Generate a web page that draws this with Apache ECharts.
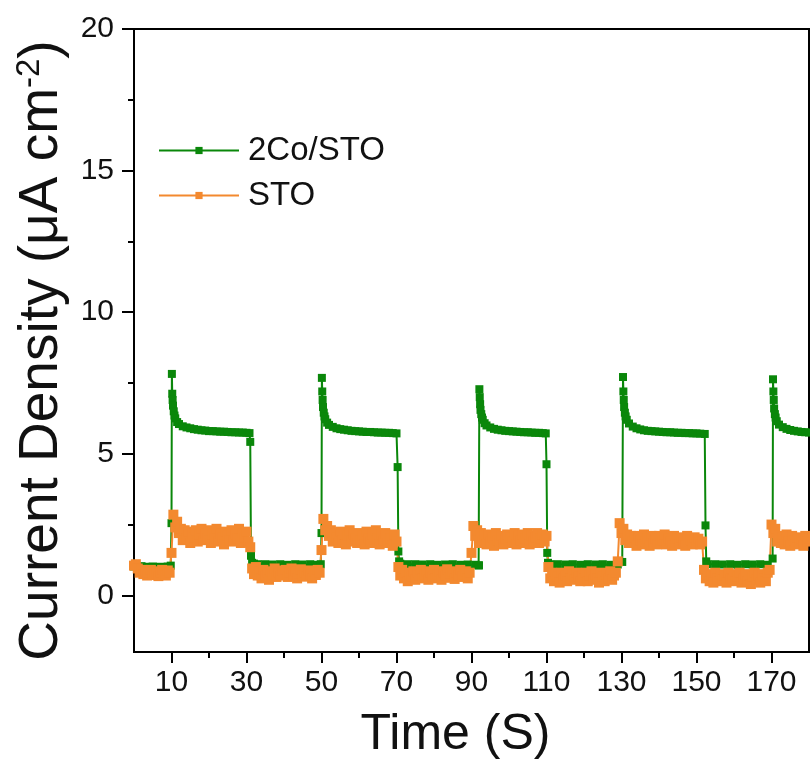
<!DOCTYPE html>
<html>
<head>
<meta charset="utf-8">
<script src="https://cdn.jsdelivr.net/npm/echarts@6/dist/echarts.min.js"></script>
<style>
html,body{margin:0;padding:0;background:#fff;}
#chart{width:810px;height:765px;}
</style>
</head>
<body>
<div id="chart"></div>
<script>
// ---- axis ticks / labels ----
const xMajorTicks = [10, 30, 50, 70, 90, 110, 130, 150, 170];
const xMinorTicks = [20, 40, 60, 80, 100, 120, 140, 160];
const yMajorTicks = [0, 5, 10, 15, 20];
const yMinorTicks = [2.5, 7.5, 12.5, 17.5];
const seriesNames = ['2Co/STO', 'STO'];

// ---- 2Co/STO (green) : time (s) and current density ----
const greenTime = [
  0,1,2,3,4,5,6,7,8,9,9.8,
  10.0,10.1,10.2,10.3,10.4,10.6,10.8,11.0,11.5,12,13,14,15,16,17,18,19,20,21,22,23,24,25,26,27,28,29,30,30.8,
  31.0,31.2,31.5,32,33,35,37,39,41,43,45,47,49,49.8,
  50.0,50.1,50.2,50.3,50.4,50.6,50.8,51,51.5,52,53,54,55,56,57,58,59,60,61,62,63,64,65,66,67,68,69,70.0,
  70.3,70.5,70.7,71,73,75,77,79,81,83,85,87,89,91,91.9,
  92.0,92.1,92.2,92.3,92.4,92.6,92.8,93,93.5,94,95,96,97,98,99,100,101,102,103,104,105,106,107,108,109,109.8,
  110.0,110.2,110.4,111,113,115,117,119,121,123,125,127,129,130.2,
  130.4,130.5,130.6,130.7,130.9,131.1,131.4,132,133,134,135,136,137,138,139,140,141,142,143,144,145,146,147,148,149,150,151,152.2,
  152.4,152.6,153,155,157,159,161,163,165,167,169,170.3,
  170.4,170.5,170.6,170.7,170.9,171.1,171.4,172,173,174,175,176,177,178,179,180
];
const greenValue = [
  1.02,1.0,1.03,1.01,1.0,1.02,1.0,1.01,1.0,1.02,1.05,
  2.55,7.82,7.12,6.9,6.7,6.5,6.35,6.25,6.12,6.05,5.97,5.93,5.9,5.87,5.85,5.83,5.82,5.8,5.8,5.79,5.78,5.78,5.77,5.76,5.76,5.75,5.75,5.74,5.73,
  5.42,1.4,1.15,1.12,1.1,1.1,1.09,1.1,1.08,1.1,1.09,1.1,1.08,1.1,
  2.2,7.68,7.2,6.9,6.65,6.45,6.32,6.22,6.1,6.02,5.95,5.9,5.87,5.85,5.83,5.81,5.8,5.79,5.78,5.77,5.77,5.76,5.75,5.75,5.74,5.74,5.73,5.72,
  4.53,1.55,1.2,1.12,1.1,1.1,1.09,1.1,1.08,1.09,1.1,1.08,1.09,1.08,1.06,
  1.06,7.28,7.0,6.75,6.55,6.4,6.28,6.2,6.08,6.0,5.93,5.88,5.85,5.83,5.81,5.8,5.79,5.78,5.77,5.76,5.76,5.75,5.74,5.74,5.73,5.72,
  4.63,1.5,1.15,1.1,1.1,1.09,1.1,1.08,1.1,1.09,1.1,1.08,1.09,1.18,
  7.71,7.2,6.9,6.65,6.45,6.32,6.2,6.07,5.96,5.9,5.86,5.83,5.81,5.8,5.79,5.78,5.77,5.76,5.76,5.75,5.74,5.74,5.73,5.73,5.72,5.72,5.71,5.7,
  2.47,1.2,1.1,1.1,1.09,1.1,1.08,1.1,1.09,1.1,1.08,1.3,
  7.63,7.2,6.9,6.6,6.4,6.28,6.15,6.03,5.94,5.88,5.84,5.81,5.79,5.77,5.76,5.75
];

// ---- STO (orange) : sampled every 0.5 s from 0 s ----
const orangeStep = 0.5;
const orangeValue = [
  1.05,1.1,0.95,0.8,0.9,0.75,0.85,0.7,0.8,0.9,0.72,0.85,0.78,0.68,0.82,0.9,0.75,0.7,0.88,0.8,
  1.5,2.85,2.4,2.6,2.2,2.35,1.95,2.3,2.0,2.25,1.85,2.2,2.05,2.3,1.9,2.15,2.35,1.95,2.2,2.0,
  2.3,1.85,2.15,2.0,2.35,1.9,2.2,2.05,1.8,2.25,2.1,1.95,2.3,1.9,2.15,2.0,2.35,1.85,2.2,2.05,
  2.25,1.9,1.7,0.95,0.75,1.0,0.7,0.85,0.6,0.9,0.7,0.8,0.55,0.85,0.75,0.95,0.65,0.8,0.7,0.88,
  0.72,0.9,0.65,0.8,0.95,0.7,0.85,0.6,0.78,0.92,0.7,0.82,0.66,0.88,0.75,0.6,0.85,0.72,0.9,0.8,
  1.6,2.7,2.3,2.45,2.1,2.3,1.9,2.2,2.05,1.85,2.25,1.95,2.15,1.8,2.1,2.3,1.9,2.15,2.0,1.85,
  2.2,1.95,2.1,1.8,2.25,2.0,1.9,2.15,1.85,2.3,2.0,1.8,2.15,1.95,2.2,1.85,2.1,2.0,1.75,2.15,
  1.9,1.0,0.7,0.9,0.6,0.8,0.5,0.75,0.65,0.85,0.55,0.8,0.7,0.9,0.6,0.75,0.85,0.55,0.8,0.68,
  0.9,0.6,0.75,0.85,0.55,0.8,0.7,0.92,0.62,0.78,0.85,0.58,0.8,0.7,0.9,0.65,0.75,0.85,0.6,0.8,
  1.5,2.45,2.1,2.3,1.85,2.2,1.95,2.1,1.8,2.15,1.9,2.05,1.75,2.2,1.95,1.85,2.1,1.8,2.0,2.15,
  1.85,2.05,1.9,2.2,1.8,2.1,1.95,2.15,1.85,2.0,2.2,1.8,2.1,1.9,2.05,2.2,1.85,2.0,2.15,1.9,
  2.1,1.0,0.6,0.8,0.5,0.75,0.65,0.45,0.8,0.6,0.7,0.5,0.85,0.6,0.75,0.55,0.8,0.65,0.5,0.75,
  0.6,0.8,0.5,0.7,0.85,0.55,0.75,0.6,0.45,0.8,0.65,0.5,0.75,0.6,0.85,0.55,0.7,0.8,1.2,2.55,
  2.2,2.35,1.95,2.15,1.85,2.1,1.9,2.05,1.75,2.1,1.95,1.8,2.15,1.9,2.0,1.75,2.1,1.85,2.0,1.8,
  2.1,1.85,1.95,2.15,1.8,2.0,1.9,1.75,2.1,1.85,2.0,1.8,2.05,1.9,1.75,2.1,1.85,1.95,1.8,2.05,
  1.85,2.0,1.8,1.9,0.9,0.6,0.75,0.5,0.7,0.45,0.8,0.6,0.5,0.75,0.55,0.7,0.45,0.8,0.6,0.55,
  0.75,0.5,0.65,0.8,0.45,0.6,0.75,0.5,0.7,0.4,0.65,0.8,0.55,0.7,0.45,0.75,0.6,0.5,0.8,0.9,
  2.5,2.2,2.35,1.9,2.1,1.85,2.05,1.8,2.15,1.9,1.75,2.1,1.95,1.8,2.05,1.85,2.0,1.75,2.1,1.9,
  2.0
];

const greenData = greenTime.map((t, i) => [t, greenValue[i]]);
const orangeData = orangeValue.map((v, i) => [i * orangeStep, v]);

const GREEN = '#0a870a';
const ORANGE = '#f3892f';
const FONT = "'Liberation Sans', Arial, sans-serif";

const chart = echarts.init(document.getElementById('chart'), null, {renderer: 'canvas'});
chart.setOption({
  animation: false,
  backgroundColor: '#fff',
  grid: {left: 134, right: 1, top: 29, bottom: 113, show: true, borderColor: '#000', borderWidth: 2, backgroundColor: 'transparent'},
  legend: {
    orient: 'vertical', left: 153, top: 128, itemWidth: 80, itemHeight: 9, itemGap: 10,
    textStyle: {fontSize: 33, fontFamily: FONT, color: '#111', lineHeight: 35, padding: [0, 0, 0, 4]},
    data: seriesNames
  },
  xAxis: [{
    type: 'value', min: 0, max: 180,
    name: 'Time (S)', nameLocation: 'middle', nameGap: 58,
    nameTextStyle: {fontSize: 50, fontFamily: FONT, color: '#111', padding: [0, 32, 0, 0]},
    axisLine: {show: true, onZero: false, lineStyle: {color: '#000', width: 2}},
    axisTick: {show: true, customValues: xMajorTicks, length: 11, lineStyle: {color: '#000', width: 2}},
    axisLabel: {customValues: xMajorTicks, fontSize: 30, fontFamily: FONT, color: '#111', margin: 16},
    splitLine: {show: false}
  }, {
    type: 'value', min: 0, max: 180, position: 'bottom',
    axisLine: {show: false, onZero: false},
    axisTick: {show: true, customValues: xMinorTicks, length: 6, lineStyle: {color: '#000', width: 2}},
    axisLabel: {show: false},
    splitLine: {show: false}
  }],
  yAxis: [{
    type: 'value', min: -2, max: 20,
    name: '{a|Current Density (μA cm}{s|-2}{a|)}', nameLocation: 'middle', nameGap: 62, nameRotate: 90,
    nameTextStyle: {
      color: '#111', padding: [0, 20, 0, 0],
      rich: {
        a: {fontSize: 55, fontFamily: FONT, color: '#111'},
        s: {fontSize: 33, fontFamily: FONT, color: '#111', verticalAlign: 'top', padding: [0, 0, 24, 0]}
      }
    },
    axisLine: {show: true, onZero: false, lineStyle: {color: '#000', width: 2}},
    axisTick: {show: true, customValues: yMajorTicks, length: 12, lineStyle: {color: '#000', width: 2}},
    axisLabel: {customValues: yMajorTicks, fontSize: 30, fontFamily: FONT, color: '#111', margin: 20},
    splitLine: {show: false}
  }, {
    type: 'value', min: -2, max: 20, position: 'left',
    axisLine: {show: false, onZero: false},
    axisTick: {show: true, customValues: yMinorTicks, length: 6, lineStyle: {color: '#000', width: 2}},
    axisLabel: {show: false},
    splitLine: {show: false}
  }],
  series: [{
    name: seriesNames[0], type: 'line', data: greenData, xAxisIndex: 0, yAxisIndex: 0,
    symbol: 'rect', symbolSize: 8, showAllSymbol: true,
    itemStyle: {color: GREEN}, lineStyle: {color: GREEN, width: 2}
  }, {
    name: seriesNames[1], type: 'line', data: orangeData, xAxisIndex: 0, yAxisIndex: 0,
    symbol: 'rect', symbolSize: 10, showAllSymbol: true,
    itemStyle: {color: ORANGE}, lineStyle: {color: ORANGE, width: 2}
  }]
});
</script>
</body>
</html>
